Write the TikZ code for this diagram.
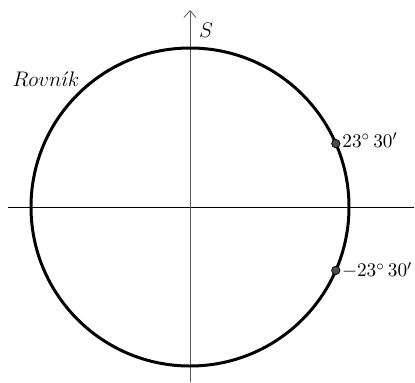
\documentclass[tikz,border=0pt]{standalone}
\usetikzlibrary{arrows.meta}
\tikzset{
  axis/.style={line width=0.45pt},
  circ/.style={line width=1.7pt},
  dot/.style={circle,draw=black,fill=black!70,line width=0.4pt,inner sep=0pt,minimum size=4.8pt},
  lab/.style={font=\fontsize{11.5}{13}\selectfont,inner sep=0pt},
  tlab/.style={font=\fontsize{11}{13}\selectfont,inner sep=0pt}
}
\begin{document}
\begin{tikzpicture}[x=0.02cm,y=-0.02cm]
\useasboundingbox (0,0) rectangle (415,382);
\coordinate (O) at (190,207);
\coordinate (L) at (8,207);
\coordinate (R) at (414,207);
\coordinate (B) at (190,382);
\coordinate (T) at (190,10);
\draw[axis] (L) -- (R);
\draw[axis,black!65,-{Straight Barb[length=4pt,width=7pt]}] (B) -- (T);
\draw[circ] (O) circle[radius=159];
\node[dot] (p1) at (335.8,143.6) {};
\node[dot] (p2) at (335.8,270.4) {};
\node[tlab,anchor=west] (l1) at ([xshift=1pt,yshift=2pt]p1.east) {$23^\circ\,30'$};
\node[tlab,anchor=west] (l2) at ([xshift=0.8pt,yshift=0pt]p2.east) {$-23^\circ\,30'$};
\node[lab] (s) at (206,30) {$S$};
\node[lab] (rov) at (46,79) {$Rovn\acute{\imath}k$};
\end{tikzpicture}
\end{document}
